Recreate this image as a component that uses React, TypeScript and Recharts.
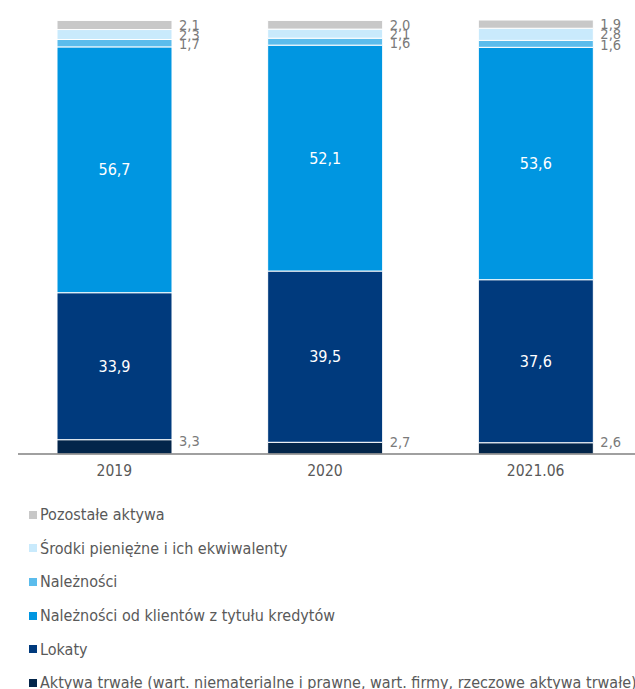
import { BarChart, Bar, XAxis, YAxis, Legend, LabelList } from 'recharts';

const CATEGORIES = ['2019', '2020', '2021.06'];
const AKTYWA_TRWALE = [3.3, 2.7, 2.6];
const LOKATY = [33.9, 39.5, 37.6];
const NAL_KLIENCI = [56.7, 52.1, 53.6];
const NALEZNOSCI = [1.7, 1.6, 1.6];
const SRODKI = [2.3, 2.1, 2.8];
const POZOSTALE = [2.1, 2.0, 1.9];

const SERIES = [
  { key: 'trwale', name: 'Aktywa trwałe (wart. niematerialne i prawne, wart. firmy, rzeczowe aktywa trwałe)', values: AKTYWA_TRWALE, color: '#03254a', inside: false },
  { key: 'lokaty', name: 'Lokaty', values: LOKATY, color: '#003a7d', inside: true },
  { key: 'klienci', name: 'Należności od klientów z tytułu kredytów', values: NAL_KLIENCI, color: '#0096e1', inside: true },
  { key: 'nal', name: 'Należności', values: NALEZNOSCI, color: '#5bbcec', inside: false },
  { key: 'srodki', name: 'Środki pieniężne i ich ekwiwalenty', values: SRODKI, color: '#c9eafc', inside: false },
  { key: 'pozostale', name: 'Pozostałe aktywa', values: POZOSTALE, color: '#c8c8c8', inside: false },
];

const data = CATEGORIES.map((c, i) => {
  const row: Record<string, string | number> = { cat: c };
  SERIES.forEach(s => { row[s.key] = s.values[i]; });
  return row;
});

const FONT = '"DejaVu Sans Condensed", "DejaVu Sans", sans-serif';
const fmt = (v: number) => v.toFixed(1).replace('.', ',');

function InsideLabel(props: any) {
  const { x, y, width, height, value } = props;
  return (
    <text x={x + width / 2} y={y + height / 2} fill="#fff" fontSize={16} fontFamily={FONT}
      textAnchor="middle" dominantBaseline="central">{fmt(value)}</text>
  );
}

function makeOutsideLabel(dy: number) {
  return (props: any) => {
    const { x, y, width, height, value } = props;
    return (
      <text x={x + width + 7} y={y + height / 2 + dy} fill="#7a7a7a" fontSize={14.5} fontFamily={FONT}
        dominantBaseline="central">{fmt(value)}</text>
    );
  };
}

function LegendList() {
  const items = [...SERIES].reverse();
  return (
    <div style={{ fontFamily: FONT, fontSize: 16, color: '#595959' }}>
      {items.map(s => (
        <div key={s.key} style={{ height: 33.6, display: 'flex', alignItems: 'center', whiteSpace: 'nowrap' }}>
          <span style={{ display: 'inline-block', width: 8, height: 8, background: s.color, marginRight: 3 }} />
          {s.name}
        </div>
      ))}
    </div>
  );
}

export default function App() {
  return (
    <div style={{ position: 'absolute', left: 0, top: 0, width: 635, height: 689, overflow: 'hidden', background: '#fff' }}>
      <BarChart width={645} height={689} data={data} barSize={115}
        margin={{ top: 20, right: 0, bottom: 205, left: 18 }}>
        <XAxis dataKey="cat" padding={{ left: -9, right: 4 }} tickLine={false}
          axisLine={{ stroke: '#808080', strokeWidth: 1.5 }} tickMargin={5}
          tick={{ fill: '#595959', fontSize: 15.5, fontFamily: FONT }} />
        <YAxis hide domain={[0, 100]} />
        <Legend verticalAlign="middle" align="center" layout="horizontal"
          wrapperStyle={{ position: 'absolute', top: 498, left: 29, width: 640 }}
          content={() => <LegendList />} />
        {SERIES.map((s, idx) => (
          <Bar key={s.key} dataKey={s.key} name={s.name} stackId="a" fill={s.color}
            stroke="#fff" strokeWidth={1} isAnimationActive={false}>
            <LabelList dataKey={s.key}
              content={s.inside ? InsideLabel : makeOutsideLabel(idx === 0 ? -6 : idx === 3 ? 1 : 0)} />
          </Bar>
        ))}
      </BarChart>
    </div>
  );
}
